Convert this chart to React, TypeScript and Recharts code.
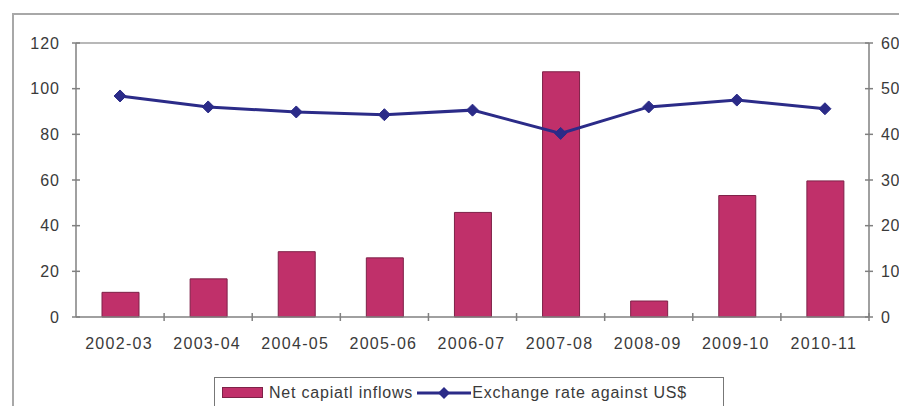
import React from "react";
import {
  ComposedChart,
  Bar,
  Line,
  XAxis,
  YAxis,
  ReferenceLine,
  Legend,
} from "recharts";

const years = [
  "2002-03",
  "2003-04",
  "2004-05",
  "2005-06",
  "2006-07",
  "2007-08",
  "2008-09",
  "2009-10",
  "2010-11",
];
const capitalInflows = [10.8, 16.7, 28.6, 25.9, 45.8, 107.4, 7.0, 53.2, 59.6];
const exchangeRate = [48.4, 46.0, 44.9, 44.3, 45.3, 40.2, 46.0, 47.5, 45.6];
const leftTicks = [0, 20, 40, 60, 80, 100, 120];
const rightTicks = [0, 10, 20, 30, 40, 50, 60];

const data = years.map((year, i) => ({
  year,
  inflows: capitalInflows[i],
  rate: exchangeRate[i],
}));

const BAR_FILL = "#c0306a";
const BAR_STROKE = "#7e2148";
const LINE_COLOR = "#2b2b88";
const AXIS_COLOR = "#808080";
const TEXT_COLOR = "#3a3a3a";
const FONT = "'Liberation Sans', Arial, sans-serif";

const XTick = (props: any) => {
  const { x, y, payload } = props;
  const off = payload && payload.offset ? payload.offset : 44;
  return (
    <g>
      <line x1={x + off} x2={x + off} y1={y - 4} y2={y + 4} stroke={AXIS_COLOR} strokeWidth={1.5} />
      <text
        x={x - 1}
        y={y + 32}
        textAnchor="middle"
        fill={TEXT_COLOR}
        fontSize={16}
        fontFamily={FONT}
        letterSpacing={1.3}
      >
        {payload.value}
      </text>
    </g>
  );
};

const LeftTick = (props: any) => {
  const { x, y, payload } = props;
  return (
    <g>
      <line x1={x - 4} x2={x + 4} y1={y} y2={y} stroke={AXIS_COLOR} strokeWidth={1.5} />
      <text
        x={x - 16}
        y={y}
        dy="0.36em"
        textAnchor="end"
        fill={TEXT_COLOR}
        fontSize={16}
        fontFamily={FONT}
        letterSpacing={1}
      >
        {payload.value}
      </text>
    </g>
  );
};

const RightTick = (props: any) => {
  const { x, y, payload } = props;
  return (
    <g>
      <line x1={x - 4} x2={x + 4} y1={y} y2={y} stroke={AXIS_COLOR} strokeWidth={1.5} />
      <text
        x={x + 12}
        y={y}
        dy="0.36em"
        textAnchor="start"
        fill={TEXT_COLOR}
        fontSize={16}
        fontFamily={FONT}
        letterSpacing={0.5}
      >
        {payload.value}
      </text>
    </g>
  );
};

const Diamond = (props: any) => {
  const { cx, cy, index } = props;
  if (cx == null || cy == null) return <g key={`d-${index}`} />;
  const r = 6;
  return (
    <path
      key={`d-${index}`}
      d={`M${cx},${cy - r} L${cx + r},${cy} L${cx},${cy + r} L${cx - r},${cy} Z`}
      fill={LINE_COLOR}
      stroke={LINE_COLOR}
    />
  );
};

const LegendBox = () => (
  <div
    style={{
      position: "absolute",
      left: 214,
      top: 377,
      width: 510,
      height: 31,
      border: "1.5px solid #777",
      boxSizing: "border-box",
      display: "flex",
      alignItems: "center",
      fontFamily: FONT,
      fontSize: 16,
      letterSpacing: 0.8,
      color: TEXT_COLOR,
      background: "#fff",
    }}
  >
    <span
      style={{
        display: "inline-block",
        width: 41,
        height: 11,
        marginLeft: 7,
        background: BAR_FILL,
        border: `1px solid ${BAR_STROKE}`,
        boxSizing: "border-box",
      }}
    />
    <span style={{ marginLeft: 6 }}>Net capiatl inflows</span>
    <svg width={54} height={14} style={{ marginLeft: 4 }}>
      <line x1={0} x2={54} y1={7} y2={7} stroke={LINE_COLOR} strokeWidth={3} />
      <path d="M27,1 L33,7 L27,13 L21,7 Z" fill={LINE_COLOR} />
    </svg>
    <span style={{ marginLeft: 1 }}>Exchange rate against US$</span>
  </div>
);

export default function App() {
  return (
    <div
      style={{
        position: "relative",
        width: 907,
        height: 414,
        margin: -8,
        background: "#fff",
        overflow: "hidden",
      }}
    >
      <div
        style={{
          position: "absolute",
          left: 12,
          top: 13,
          width: 910,
          height: 396,
          border: "2px solid #a8a8a8",
          boxSizing: "border-box",
        }}
      />
      <div style={{ position: "absolute", left: 0, top: 0 }}>
        <ComposedChart
          width={907}
          height={414}
          data={data}
          margin={{ top: 43, right: 0, bottom: 67, left: 0 }}
          barCategoryGap="29%"
          style={{ overflow: "visible" }}
        >
          <XAxis
            dataKey="year"
            xAxisId="x"
            height={30}
            tickSize={0}
            tickMargin={0}
            tickLine={false}
            axisLine={{ stroke: AXIS_COLOR, strokeWidth: 1.5 }}
            tick={<XTick />}
            interval={0}
          />
          <YAxis
            yAxisId="left"
            orientation="left"
            width={76}
            domain={[0, 120]}
            ticks={leftTicks}
            tickSize={0}
            tickMargin={0}
            tickLine={false}
            axisLine={{ stroke: AXIS_COLOR, strokeWidth: 1.5 }}
            tick={<LeftTick />}
          />
          <YAxis
            yAxisId="right"
            orientation="right"
            width={38}
            domain={[0, 60]}
            ticks={rightTicks}
            tickSize={0}
            tickMargin={0}
            tickLine={false}
            axisLine={{ stroke: AXIS_COLOR, strokeWidth: 1.5 }}
            tick={<RightTick />}
          />
          <ReferenceLine y={120} yAxisId="left" xAxisId="x" stroke="#a0a0a0" strokeWidth={1.5} />
          <Bar
            dataKey="inflows"
            name="Net capiatl inflows"
            xAxisId="x"
            yAxisId="left"
            barSize={37}
            fill={BAR_FILL}
            stroke={BAR_STROKE}
            strokeWidth={1}
            isAnimationActive={false}
          />
          <Line
            dataKey="rate"
            name="Exchange rate against US$"
            xAxisId="x"
            yAxisId="right"
            type="linear"
            stroke={LINE_COLOR}
            strokeWidth={3}
            dot={Diamond}
            activeDot={false}
            isAnimationActive={false}
          />
          <Legend content={() => null} />
        </ComposedChart>
      </div>
      <LegendBox />
    </div>
  );
}
